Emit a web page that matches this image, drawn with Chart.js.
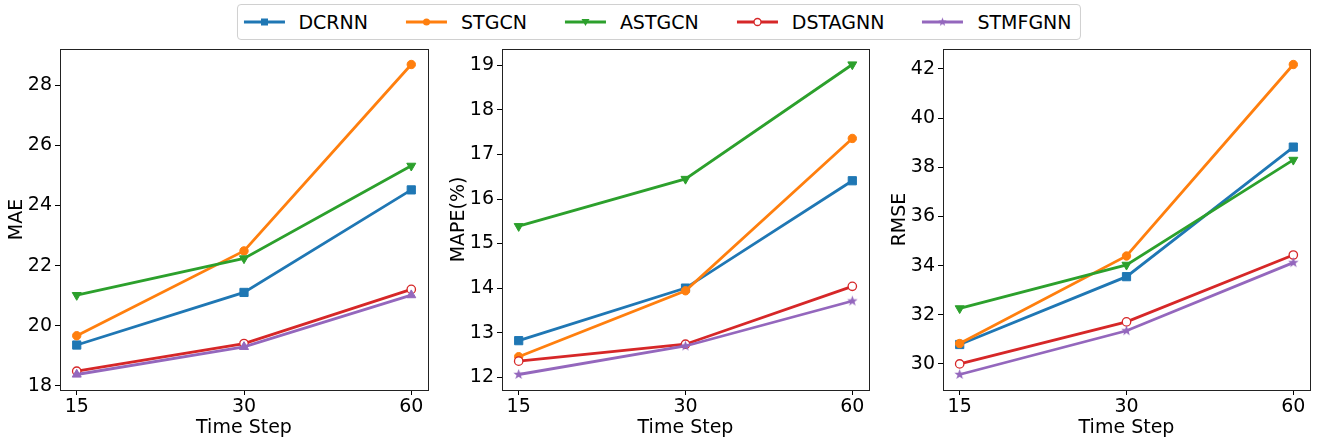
<!DOCTYPE html>
<html>
<head>
<meta charset="utf-8">
<script src="https://cdn.jsdelivr.net/npm/chart.js@4"></script>
<style>
  body { margin: 0; background: #fff; width: 1317px; height: 442px; position: relative; overflow: hidden; font-family: "DejaVu Sans", sans-serif; }
  .panel { position: absolute; top: 40px; }
  #legend {
    position: absolute; top: 4px; left: 50%; transform: translateX(-50%);
    height: 34px; border: 1px solid #d0d0d0; border-radius: 4px;
    display: flex; align-items: center; padding: 0 8px 0 6px; white-space: nowrap;
    font-size: 19px; color: #000; background: #fff;
  }
  #legend .item { display: flex; align-items: center; }
  #legend .item + .item { margin-left: 38px; }
  #legend canvas { margin-right: 14px; }
</style>
</head>
<body>
<div id="legend"></div>
<canvas id="maeChart" class="panel" width="440" height="402" style="left:0px"></canvas>
<canvas id="mapeChart" class="panel" width="440" height="402" style="left:440px"></canvas>
<canvas id="rmseChart" class="panel" width="440" height="402" style="left:877px"></canvas>
<script>
// time steps on the x axis
const steps = ['15', '30', '60'];
const models = ['DCRNN', 'STGCN', 'ASTGCN', 'DSTAGNN', 'STMFGNN'];
const colors = ['#1f77b4', '#ff7f0e', '#2ca02c', '#d62728', '#9467bd'];

// values per model (same order as models)
const mae = [
  [19.36, 21.11, 24.52],
  [19.67, 22.49, 28.69],
  [21.02, 22.24, 25.32],
  [18.49, 19.41, 21.21],
  [18.38, 19.30, 21.02]
];
const mape = [
  [12.82, 14.00, 16.41],
  [12.46, 13.94, 17.36],
  [15.39, 16.45, 19.02],
  [12.36, 12.74, 14.04],
  [12.06, 12.70, 13.71]
];
const rmse = [
  [30.79, 33.55, 38.82],
  [30.83, 34.39, 42.18],
  [32.26, 34.03, 38.30],
  [30.00, 31.71, 34.43],
  [29.57, 31.35, 34.12]
];

// y tick labels
const maeTicks = [18, 20, 22, 24, 26, 28];
const mapeTicks = [12, 13, 14, 15, 16, 17, 18, 19];
const rmseTicks = [30, 32, 34, 36, 38, 40, 42];

Chart.defaults.font.family = '"DejaVu Sans", sans-serif';
Chart.defaults.color = '#000';

// filled star marker (matplotlib '*')
function starImage(color, r) {
  const c = document.createElement('canvas');
  c.width = c.height = Math.ceil(r * 2 + 2);
  const g = c.getContext('2d');
  const cx = c.width / 2, cy = c.height / 2;
  g.beginPath();
  for (let i = 0; i < 10; i++) {
    const rad = i % 2 === 0 ? r : r * 0.42;
    const a = -Math.PI / 2 + i * Math.PI / 5;
    g.lineTo(cx + rad * Math.cos(a), cy + rad * Math.sin(a));
  }
  g.closePath();
  g.fillStyle = color;
  g.fill();
  return c;
}

const star = starImage(colors[4], 5.5);

function markerStyle(i, purpleShape) {
  switch (i) {
    case 0: return { pointStyle: 'rect', pointRadius: 5.8, pointRotation: 0, pointBackgroundColor: colors[0], pointBorderWidth: 1 };
    case 1: return { pointStyle: 'circle', pointRadius: 4.2, pointRotation: 0, pointBackgroundColor: colors[1], pointBorderWidth: 1 };
    case 2: return { pointStyle: 'triangle', pointRadius: 5.2, pointRotation: 180, pointBackgroundColor: colors[2], pointBorderWidth: 1 };
    case 3: return { pointStyle: 'circle', pointRadius: 4.2, pointRotation: 0, pointBackgroundColor: '#fff', pointBorderWidth: 1.3 };
    default:
      if (purpleShape === 'triangle') {
        return { pointStyle: 'triangle', pointRadius: 5.2, pointRotation: 0, pointBackgroundColor: colors[4], pointBorderWidth: 1 };
      }
      return { pointStyle: star, pointRadius: 5.5, pointRotation: 0, pointBackgroundColor: colors[4], pointBorderWidth: 0 };
  }
}

// draws the four spines around the plot area
const framePlugin = {
  id: 'frame',
  afterDraw(chart) {
    const { ctx, chartArea: a } = chart;
    ctx.save();
    ctx.strokeStyle = '#222';
    ctx.lineWidth = 1;
    ctx.strokeRect(Math.round(a.left) + 0.5, Math.round(a.top) + 0.5, Math.round(a.right - a.left), Math.round(a.bottom - a.top));
    ctx.restore();
  }
};

function createPanel(id, values, ticks, label, layout, purpleShape) {
  const all = values.flat();
  const lo = Math.min(...all), hi = Math.max(...all);
  const pad = (hi - lo) * 0.05;

  const datasets = models.map((name, i) => Object.assign({
    label: name,
    data: values[i].map((v, j) => ({ x: j, y: v })),
    borderColor: colors[i],
    pointBorderColor: colors[i],
    borderWidth: 2.8,
    fill: false,
    tension: 0,
    order: models.length - i
  }, markerStyle(i, purpleShape)));

  new Chart(document.getElementById(id), {
    type: 'line',
    data: { datasets },
    options: {
      responsive: false,
      animation: false,
      devicePixelRatio: 1,
      layout: { padding: { left: 0, right: layout.padRight, top: 9, bottom: 0 } },
      plugins: { legend: { display: false }, tooltip: { enabled: false } },
      scales: {
        x: {
          type: 'linear',
          min: -0.1,
          max: steps.length - 1 + 0.1,
          afterBuildTicks: s => { s.ticks = steps.map((_, j) => ({ value: j })); },
          afterFit: s => { s.height = 52; s.paddingLeft = 0; s.paddingRight = 0; },
          ticks: { callback: v => steps[v], font: { size: 19 }, padding: 1, maxRotation: 0 },
          grid: { drawOnChartArea: false, drawTicks: true, tickLength: 5, tickColor: '#000', tickWidth: 1 },
          border: { display: false },
          title: { display: true, text: 'Time Step', font: { size: 19 }, padding: { top: 0, bottom: 3 } }
        },
        y: {
          type: 'linear',
          min: lo - pad,
          max: hi + pad,
          afterBuildTicks: s => { s.ticks = ticks.map(v => ({ value: v })); },
          afterFit: s => { s.width = layout.axisW; s.paddingTop = 0; s.paddingBottom = 0; },
          ticks: { font: { size: 19 }, padding: 3 },
          grid: { drawOnChartArea: false, drawTicks: true, tickLength: 5, tickColor: '#000', tickWidth: 1 },
          border: { display: false },
          title: { display: true, text: label, font: { size: 19 }, padding: { top: layout.titlePad, bottom: 0 } }
        }
      }
    },
    plugins: [framePlugin]
  });
}

createPanel('maeChart', mae, maeTicks, 'MAE', { axisW: 60, padRight: 12, titlePad: 6 }, 'triangle');
createPanel('mapeChart', mape, mapeTicks, 'MAPE(%)', { axisW: 62, padRight: 11, titlePad: 8 }, 'star');
createPanel('rmseChart', rmse, rmseTicks, 'RMSE', { axisW: 66, padRight: 7, titlePad: 12 }, 'star');

// legend: line sample with marker, then name
const legend = document.getElementById('legend');
models.forEach((name, i) => {
  const item = document.createElement('div');
  item.className = 'item';
  const c = document.createElement('canvas');
  c.width = 41; c.height = 20;
  const g = c.getContext('2d');
  g.strokeStyle = colors[i];
  g.lineWidth = 2.8;
  g.beginPath(); g.moveTo(0, 10); g.lineTo(41, 10); g.stroke();
  g.fillStyle = colors[i];
  g.lineWidth = 1;
  const cx = 20.5, cy = 10;
  g.beginPath();
  if (i === 0) {
    g.rect(cx - 3.5, cy - 3.5, 7, 7); g.fill();
  } else if (i === 1) {
    g.arc(cx, cy, 3.5, 0, Math.PI * 2); g.fill();
  } else if (i === 2) {
    g.moveTo(cx - 4, cy - 3); g.lineTo(cx + 4, cy - 3); g.lineTo(cx, cy + 4); g.closePath(); g.fill();
  } else if (i === 3) {
    g.arc(cx, cy, 3.5, 0, Math.PI * 2); g.fillStyle = '#fff'; g.fill(); g.lineWidth = 1.3; g.stroke();
  } else {
    g.drawImage(starImage(colors[4], 4.5), cx - 5.5, cy - 5.5);
  }
  const t = document.createElement('span');
  t.textContent = name;
  item.appendChild(c);
  item.appendChild(t);
  legend.appendChild(item);
});
</script>
</body>
</html>
